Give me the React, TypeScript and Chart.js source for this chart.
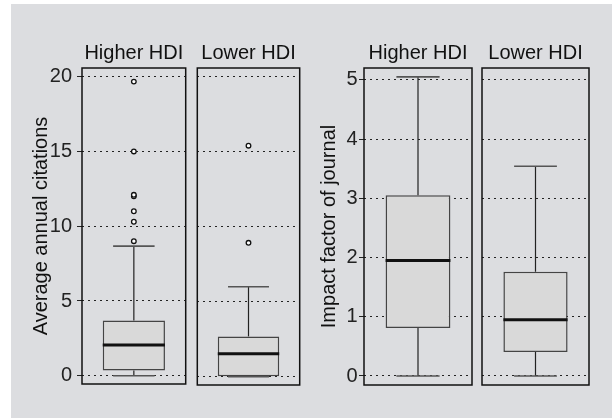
import React, { useEffect, useRef } from "react";
import { Chart, registerables } from "chart.js";
Chart.register(...registerables);

// ---- data ----
const groups = ["Higher HDI", "Lower HDI"];
// [lower whisker, Q1, median, Q3, upper whisker]
const citHigherBox = [0, 0.36, 2.05, 3.69, 8.67];
const citHigherOut = [9.0, 10.3, 11.0, 12.0, 12.1, 15.0, 19.67];
const citLowerBox = [0, 0, 1.53, 2.69, 6.0];
const citLowerOut = [8.93, 15.4];
const ifHigherBox = [0, 0.81, 1.95, 3.05, 5.05];
const ifHigherOut: number[] = [];
const ifLowerBox = [0, 0.405, 0.95, 1.76, 3.54];
const ifLowerOut: number[] = [];
const citTicks = [0, 5, 10, 15, 20];
const ifTicks = [0, 1, 2, 3, 4, 5];
const citTitle = "Average annual citations";
const ifTitle = "Impact factor of journal";

const FONT = "'Liberation Sans', Arial, sans-serif";

type PanelCfg = {
  group: string;
  box: number[];
  outliers: number[];
  ticks: number[];
  min: number;
  max: number;
  axisTitle?: string;
  axisWidth: number;
  tickPad: number;
  axisTitlePad: number;
  left: number;
  width: number;
  padLeft: number;
};

const TOP = 4;
const HEIGHT = 397;

function boxPlugin(box: number[]) {
  return {
    id: "boxWhisker",
    afterDatasetsDraw(chart: any) {
      const { ctx } = chart;
      const xs = chart.scales.x;
      const ys = chart.scales.y;
      const cx = xs.getPixelForValue(0);
      const catW = xs.width;
      const boxW = catW * 0.6;
      const capW = catW * 0.4;
      const [lo, q1, med, q3, hi] = box;
      ctx.save();
      ctx.strokeStyle = "#222";
      ctx.lineWidth = 1.2;
      ctx.beginPath();
      ctx.moveTo(cx, ys.getPixelForValue(q3));
      ctx.lineTo(cx, ys.getPixelForValue(hi));
      ctx.moveTo(cx, ys.getPixelForValue(q1));
      ctx.lineTo(cx, ys.getPixelForValue(lo));
      ctx.stroke();
      ctx.strokeStyle = "#555";
      ctx.lineWidth = 1.6;
      ctx.beginPath();
      ctx.moveTo(cx - capW / 2, ys.getPixelForValue(hi));
      ctx.lineTo(cx + capW / 2, ys.getPixelForValue(hi));
      ctx.moveTo(cx - capW / 2, ys.getPixelForValue(lo));
      ctx.lineTo(cx + capW / 2, ys.getPixelForValue(lo));
      ctx.stroke();
      ctx.strokeStyle = "#111";
      ctx.lineWidth = 3;
      ctx.beginPath();
      ctx.moveTo(cx - boxW / 2, ys.getPixelForValue(med));
      ctx.lineTo(cx + boxW / 2, ys.getPixelForValue(med));
      ctx.stroke();
      ctx.restore();
    },
    afterDraw(chart: any) {
      const { ctx, chartArea } = chart;
      ctx.save();
      ctx.strokeStyle = "#111";
      ctx.lineWidth = 1.5;
      ctx.strokeRect(chartArea.left, chartArea.top, chartArea.right - chartArea.left, chartArea.bottom - chartArea.top);
      ctx.restore();
    },
  };
}

function makeChart(canvas: HTMLCanvasElement, p: PanelCfg) {
  const showAxis = !!p.axisTitle;
  return new Chart(canvas, {
    type: "bar",
    data: {
      labels: [p.group],
      datasets: [
        {
          type: "bar",
          data: [[p.box[1], p.box[3]]] as any,
          backgroundColor: "#d9d9d9",
          borderColor: "#444",
          borderWidth: 1.5,
          borderSkipped: false,
          barPercentage: 0.6,
          categoryPercentage: 1,
        } as any,
        {
          type: "line",
          data: p.outliers.map((v) => ({ x: p.group, y: v })) as any,
          showLine: false,
          pointRadius: 2.3,
          pointBorderWidth: 1.3,
          pointBorderColor: "#111",
          pointBackgroundColor: "#fff",
        } as any,
      ],
    },
    options: {
      responsive: false,
      animation: false,
      devicePixelRatio: 1,
      layout: { padding: { left: p.padLeft, right: 4, top: 0, bottom: HEIGHT + TOP - 385 } },
      plugins: {
        legend: { display: false },
        tooltip: { enabled: false },
        title: { display: false },
      },
      scales: {
        x: {
          display: true,
          position: "top",
          afterFit: (s: any) => {
            s.height = 64;
          },
          grid: { display: false, drawTicks: false },
          border: { display: false },
          ticks: {
            padding: 3,
            color: "#111",
            maxRotation: 0,
            autoSkip: false,
            font: { family: FONT, size: 20 },
          },
        },
        y: {
          display: true,
          min: p.min,
          max: p.max,
          afterBuildTicks: (s: any) => {
            s.ticks = p.ticks.map((v) => ({ value: v }));
          },
          afterFit: (s: any) => {
            s.width = p.axisWidth;
          },
          border: { display: false, dash: [2, 4] },
          grid: {
            drawOnChartArea: true,
            drawTicks: showAxis,
            tickLength: 5,
            color: "#222",
            lineWidth: 1,
            tickBorderDash: [1, 0],
            tickColor: "#222",
            tickWidth: 1,
          },
          ticks: {
            display: showAxis,
            padding: p.tickPad,
            color: "#222",
            font: { family: FONT, size: 20 },
          },
          title: {
            display: showAxis,
            text: p.axisTitle || "",
            color: "#111",
            font: { family: FONT, size: 20 },
            padding: { top: p.axisTitlePad, bottom: 0 },
          },
        },
      },
    },
    plugins: [boxPlugin(p.box)],
  });
}

const panels: PanelCfg[] = [
  { group: groups[0], box: citHigherBox, outliers: citHigherOut, ticks: citTicks, min: -0.55, max: 20.58, axisTitle: citTitle, axisWidth: 71, tickPad: 5, axisTitlePad: 18, left: 11, width: 180, padLeft: 0 },
  { group: groups[1], box: citLowerBox, outliers: citLowerOut, ticks: citTicks, min: -0.55, max: 20.58, axisWidth: 0, tickPad: 5, axisTitlePad: 0, left: 192, width: 113, padLeft: 4 },
  { group: groups[0], box: ifHigherBox, outliers: ifHigherOut, ticks: ifTicks, min: -0.152, max: 5.2, axisTitle: ifTitle, axisWidth: 58, tickPad: 1.5, axisTitlePad: 11, left: 306, width: 170, padLeft: 0 },
  { group: groups[1], box: ifLowerBox, outliers: ifLowerOut, ticks: ifTicks, min: -0.152, max: 5.2, axisWidth: 0, tickPad: 1.5, axisTitlePad: 0, left: 478, width: 115, padLeft: 4 },
];

function Panel({ cfg }: { cfg: PanelCfg }) {
  const ref = useRef<HTMLCanvasElement>(null);
  useEffect(() => {
    if (!ref.current) return;
    const c = makeChart(ref.current, cfg);
    return () => c.destroy();
  }, [cfg]);
  return (
    <canvas
      ref={ref}
      width={cfg.width}
      height={HEIGHT}
      style={{ position: "absolute", left: cfg.left, top: TOP, width: cfg.width, height: HEIGHT }}
    />
  );
}

export default function App() {
  return (
    <div style={{ position: "fixed", left: 0, top: 0, width: 612, height: 418, background: "#fff", overflow: "hidden" }}>
      <div style={{ position: "absolute", left: 11, top: 4, width: 601, height: 414, background: "#dcdde0" }} />
      {panels.map((p, i) => (
        <Panel key={i} cfg={p} />
      ))}
    </div>
  );
}
